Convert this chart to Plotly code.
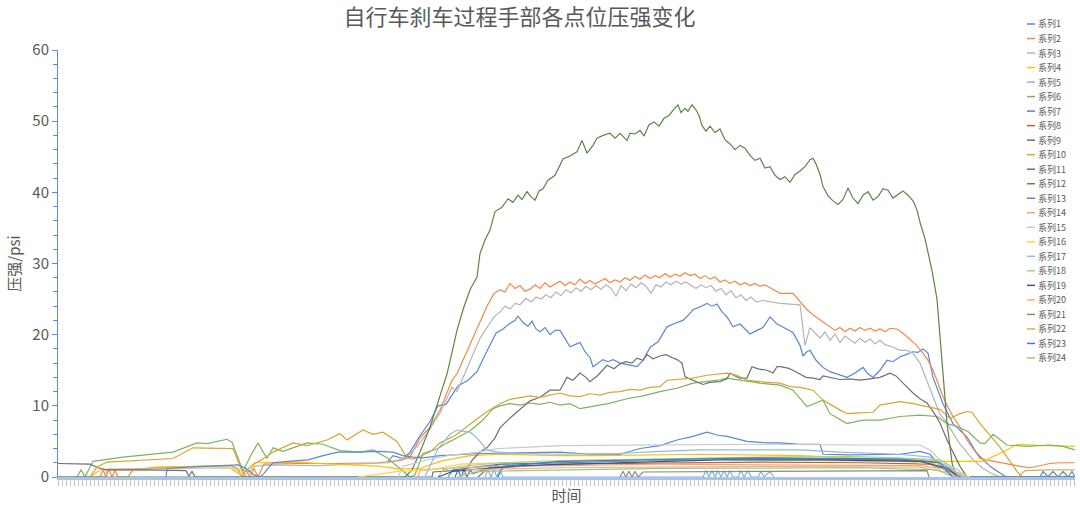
import plotly.graph_objects as go

# time index (sample) / pressure (psi)
s1_t = [330,335,345,352,362,372,380,388,394,400,410,419,430,438,445,452,457,460,465,470,474,478,482,487,492,497,502,507,512,517,522,527,532,535,540,545,550,555,562,570,579,585,592,600,609,617,625,632,635,642,649,654,659,664,669,675,682,687,692,699,705,712,716,719,722,729,735,742,745,749,752,758,765,772,782,789,797,805,810,815,822,829,835,842,848,855,860,865,870,875,885,895,909,919,932,942,948,1017]
s1_v = [2.2,3.0,2.6,3.5,5.8,7.8,10.0,10.2,11.5,12.8,13.6,14.8,18.0,20.2,20.8,21.6,22.0,22.6,21.7,21.2,21.9,20.8,20.4,21.0,20.0,20.6,20.6,19.4,18.3,18.6,18.9,17.6,16.8,15.5,16.0,16.5,16.2,16.5,16.0,15.8,15.5,16.4,18.2,19.0,21.1,21.6,22.0,23.0,23.5,23.9,24.4,24.0,24.3,23.2,22.5,21.1,21.5,20.8,20.1,20.6,21.0,22.5,22.0,21.5,21.3,20.8,20.3,18.5,17.0,17.6,17.8,16.4,15.4,14.8,14.3,14.0,14.6,15.4,14.5,14.0,15.0,16.4,16.2,16.9,17.2,17.6,17.5,18.0,17.4,14.0,10.3,7.5,5.6,3.3,1.5,0.5,0,0]

s2_t = [0,42,45,48,51,54,57,60,70,75,92,172,180,184,188,192,196,200,206,240,280,320,342,352,362,372,382,394,399,411,422,429,436,442,447,452,457,462,467,472,477,482,487,492,497,502,507,512,517,522,527,532,537,542,547,552,557,562,567,572,577,582,587,592,597,602,607,612,617,622,627,632,637,642,647,652,657,662,667,672,677,682,687,692,697,702,707,712,717,722,735,749,757,765,772,777,782,787,792,797,802,807,812,817,822,827,832,839,845,852,858,865,870,875,880,885,890,895,902,909,915,922,932,942,952,962,972,982,992,1002,1017]
s2_v = [0,0,1.0,0,1.0,0,0.9,0,0,1.0,1.3,1.6,1.2,0,1.0,0,1.2,0,1.8,1.9,1.9,2.0,2.3,2.8,5.5,7.0,9.4,13.6,14.5,18.3,22.0,24.0,25.8,26.3,26.0,27.2,26.5,26.9,26.1,26.4,27.0,26.5,27.3,26.7,27.1,27.5,26.9,27.4,27.0,27.8,27.2,27.6,27.1,27.5,27.9,27.3,27.7,27.4,28.0,27.6,28.2,27.8,28.4,27.9,28.3,28.0,28.6,28.1,28.5,28.2,28.7,28.3,28.5,27.9,28.3,27.8,28.1,27.4,27.7,27.2,27.5,27.0,27.3,26.9,27.2,26.8,27.0,26.6,26.2,25.8,25.8,23.5,22.6,21.8,21.2,20.6,21.0,20.4,20.9,20.5,21.0,20.6,20.9,20.5,20.8,20.4,20.9,20.8,20.2,19.4,18.6,17.4,16.4,15.0,13.2,11.3,9.8,8.5,7.0,5.2,4.0,2.6,2.3,2.0,1.8,1.5,1.3,1.6,1.9,2.0,2.0]

s3_t = [0,47,49,100,172,180,186,196,210,260,300,330,345,352,362,372,382,394,399,411,422,436,442,447,452,457,462,468,473,478,483,488,493,498,503,508,513,518,523,528,533,538,543,548,553,558,563,568,573,578,583,588,593,598,603,608,613,618,623,628,633,638,643,648,653,658,663,668,673,678,683,688,693,698,705,722,742,747,752,757,762,767,772,777,782,787,792,797,802,807,812,817,822,827,832,842,849,855,862,869,876,882,889,900,915,925,935,942,1017]
s3_v = [0,0,1.1,1.2,1.3,0.5,0.1,1.5,1.7,1.6,1.8,2.0,2.6,3.2,4.8,6.8,9.0,12.6,12.0,16.0,19.5,22.5,23.2,24.0,23.6,24.4,24.2,25.1,24.6,25.3,25.0,25.6,25.2,26.0,25.5,26.3,25.9,26.6,26.1,26.8,26.3,26.9,26.4,27.0,26.5,25.4,26.9,26.2,27.1,26.6,27.3,26.8,25.8,27.0,26.7,27.4,27.0,27.5,27.1,27.4,27.0,26.5,27.0,26.6,26.9,26.1,26.5,25.6,26.2,25.2,25.6,24.8,25.3,24.6,24.8,24.4,24.2,18.5,21.0,20.2,19.5,20.4,19.2,20.1,18.9,19.8,19.3,18.8,19.5,18.9,19.4,18.7,19.2,18.6,18.4,17.8,17.8,17.4,16.0,13.5,11.0,8.8,7.6,5.0,2.4,1.2,0.4,0,0]

s4_t = [32,42,92,95,172,180,185,192,197,242,262,282,322,342,362,382,412,442,502,542,642,742,822,862,882,925,945,959,985,1017]
s4_v = [0,1.0,1.0,1.4,1.6,0.8,0,0,2.0,2.1,1.9,1.8,1.5,1.1,1.2,2.2,3.0,3.2,3.0,3.0,3.2,3.0,2.5,2.5,2.2,2.2,3.5,4.6,4.4,4.3]

s5_t = [427,430,433,436,439,442,445,645,648,651,654,657,660,663,666,669,672,675,680,683,686,690,693,700,703,706,712,716]
s5_v = [0,1.0,0,1.0,0,1.0,0,0,0.9,0,0.9,0,0.9,0,0.9,0,0.9,0,0,0.9,0,0.9,0,0,0.8,0,0.8,0]

s6_t = [19,23,27,35,65,99,115,139,149,169,174,185,192,200,209,215,225,249,265,282,302,315,329,342,352,357,365,380,389,395,412,425,435,442,452,462,472,482,492,502,512,522,535,550,569,585,602,620,635,645,660,669,679,689,702,722,735,749,765,772,789,805,822,842,862,879,889,899,910,922,927,935,949,969,992,1005,1017]
s6_v = [0,1.0,0,2.2,2.8,3.3,3.5,4.8,4.7,5.3,4.9,0.8,2.8,4.8,2.6,4.1,3.6,4.8,4.6,3.7,3.5,3.8,2.7,1.2,0,0.3,3.3,4.0,4.8,5.2,6.5,8.0,9.6,10.0,10.3,10.1,10.4,10.2,10.5,10.1,10.3,9.6,9.9,10.3,11.0,11.4,12.0,12.5,13.2,13.4,13.6,13.9,13.7,13.4,13.2,12.9,12.2,9.9,10.8,8.9,7.5,8.0,8.0,8.5,8.7,8.5,7.5,7.1,6.4,4.8,4.7,6.0,4.5,4.3,4.5,4.3,3.8]

s7_t = [390,395,442,542,642,742,842,882,895,905]
s7_v = [0,1.0,1.8,2.1,2.5,2.6,2.4,2.0,0.8,0]

s8_t = [420,430,502,602,702,802,872,892,902]
s8_v = [0,1.2,1.8,2.0,2.1,2.0,1.8,0.8,0]

s9_t = [0,15,20,32,40,49,90,128,131,134,137,374,375,405,409,415,422,429,437,442,452,462,472,482,492,502,509,515,522,528,532,540,549,556,562,568,574,579,585,589,595,602,608,614,619,624,627,630,638,645,652,662,669,672,677,682,689,694,700,709,715,719,722,730,735,742,748,755,762,765,772,782,792,802,812,822,832,838,845,855,862,869,876,882,889,895,902,909,1017]
s9_v = [1.9,1.9,1.8,1.8,1.3,1.0,1.0,0.9,0.1,0.8,0,0,0.7,1.0,1.3,2.5,3.5,4.1,5.5,6.9,8.3,9.5,10.7,11.2,12.2,12.2,14.0,13.6,14.6,14.0,13.4,14.3,15.7,15.2,15.9,16.2,16.0,16.7,16.4,17.2,16.6,17.0,17.2,16.8,16.5,16.0,14.1,13.9,13.4,13.0,13.3,13.4,13.8,14.6,14.2,13.9,13.9,15.5,15.2,15.0,14.6,15.5,15.5,15.3,15.0,14.4,14.0,13.9,13.7,14.2,14.0,13.7,13.8,13.6,13.8,14.0,14.6,14.2,13.2,11.8,11.0,10.4,9.0,7.6,5.2,3.5,1.5,0,0]

s10_t = [32,39,49,99,115,135,157,175,185,195,202,215,235,249,269,282,289,305,315,325,339,349,355,372,382,397,412,427,435,442,452,462,472,482,492,502,512,522,532,542,552,562,572,582,592,602,609,622,635,649,662,669,679,689,702,722,732,742,755,765,782,789,802,815,822,832,842,855,865,882,892,902,909,914,922,932,942,952,959,964]
s10_v = [0,1.4,2.1,2.4,2.6,4.1,4.0,4.0,0.5,1.8,2.3,3.5,4.8,4.4,5.2,6.1,5.2,6.6,6.0,6.3,5.0,2.7,2.5,3.5,4.8,5.8,7.4,9.0,9.7,10.3,10.9,11.1,11.4,11.2,11.5,11.8,11.4,11.3,11.7,11.5,11.9,12.0,12.3,12.2,12.6,12.7,13.6,13.7,13.9,14.3,14.5,14.6,14.3,13.6,13.4,13.2,12.7,12.6,12.2,10.8,9.4,8.9,9.0,9.1,10.1,10.4,10.6,10.3,10.0,9.5,8.2,8.9,9.2,9.1,7.5,5.8,4.2,2.2,0.8,0]

s11_t = [397,400,403,406,409,412,415,442,502,602,702,802,862,882,892,900]
s11_v = [0,1.0,0,1.0,0,1.0,0.5,1.8,2.0,2.4,2.6,2.5,2.3,2.0,1.0,0]

s12_t = [0,347,354,362,372,382,389,394,399,405,412,419,422,427,432,437,444,450,455,460,464,469,473,477,481,485,490,497,502,505,512,519,524,529,535,539,545,552,557,562,569,572,577,582,586,591,596,601,606,611,616,620,623,627,630,634,638,641,644,648,652,657,662,667,672,677,682,687,692,697,702,707,712,717,722,727,732,737,742,747,752,755,758,762,765,770,775,780,785,790,795,800,805,810,815,820,825,830,835,840,845,850,855,859,862,867,874,879,885,889,894,898,1017]
s12_v = [0,0,1.0,3.5,7.0,11.5,14.5,17.5,20.6,23.5,26.3,28.1,31.4,33.3,34.7,37.3,37.9,39.1,38.6,39.6,39.0,40.1,39.4,38.9,40.2,40.5,41.7,42.4,43.8,44.7,45.1,45.7,47.3,45.5,46.6,47.6,48.0,48.3,47.6,48.3,47.3,48.3,48.2,48.7,47.9,49.5,49.9,49.3,50.4,50.8,51.7,52.3,51.2,51.8,51.4,52.3,51.6,50.8,49.4,48.6,49.3,48.4,48.9,47.4,46.8,46.0,46.6,46.2,45.2,44.5,44.8,43.4,43.6,42.4,41.8,42.2,41.4,42.5,43.0,43.6,44.6,44.8,44.0,42.5,40.8,39.5,38.8,38.3,39.0,40.6,39.2,38.4,39.6,40.1,38.9,39.4,40.5,40.3,39.2,39.7,40.2,39.6,38.8,37.5,35.8,33.5,29.0,25.0,15.0,7.6,2.0,0,0]

s13_t = [108,109,130,170,180,188,196,202,206,210,215,230,250,265,280,300,320,335,345,355,365,382,422,462,502,532,562,582,602,619,635,649,659,669,689,709,722,742,762,765,792,842,862,872,882,889,895,982,985,990,995,1000,1005,1010,1014,1017]
s13_v = [0,1.2,1.4,1.6,1.7,1.2,0.3,0,0.5,1.2,2.0,2.2,2.4,3.0,3.5,3.5,3.6,3.5,3.0,2.8,2.7,3.0,3.3,3.4,3.5,3.2,3.2,4.0,4.4,5.2,5.7,6.3,5.9,5.7,5.0,4.8,4.8,4.6,4.6,3.2,3.1,3.2,3.6,3.2,1.6,0.7,0,0,0.8,0,0.8,0,0.8,0,0.8,0]

s14_t = [360,362,402,442,502,602,702,802,862,882,902,912]
s14_v = [0,1.0,1.3,1.5,1.6,1.8,1.7,1.7,1.6,1.2,0.5,0]

s15_t = [340,345,372,390,420,440,502,602,702,802,862,872,882,895,905]
s15_v = [0,1.5,2.5,3.0,3.5,4.0,4.4,4.5,4.6,4.5,4.5,3.8,2.4,1.1,0]

s16_t = [300,340,372,402,442,542,642,742,842,882,897,912]
s16_v = [0,0.8,1.0,1.8,2.0,2.2,2.5,2.3,2.2,1.8,0.8,0]

s17_t = [367,372,380,392,399,405,412,419,429,440,462,502,562,602,642,702,742,782,842,872,882,895,905]
s17_v = [0,1.5,4.0,6.0,6.6,6.4,6.3,5.5,3.8,3.5,3.3,3.2,3.3,3.6,3.8,3.8,3.8,3.5,3.2,2.8,2.0,1.0,0]

s18_t = [380,385,402,442,502,602,702,782,842,882,900,908]
s18_v = [0,1.0,1.5,2.0,2.3,2.6,2.8,2.9,2.7,2.4,1.0,0]

s19_t = [380,395,462,562,662,762,862,890,900]
s19_v = [0,0.8,1.6,2.0,2.4,2.4,2.2,1.2,0]

s20_t = [402,410,502,702,862,890,900]
s20_v = [0,1.0,1.3,1.5,1.4,0.6,0]

s21_t = [562,565,568,571,574,577,580,585,700,869,871]
s21_v = [0,0.8,0,0.8,0,0.8,0,0.7,0.8,0.9,0]

s22_t = [960,967,990,1017]
s22_v = [0,0.9,1.0,1.0]

s23_t = [440,445,502,702,842,882,895]
s23_v = [0,1.5,2.2,2.7,2.5,2.0,0]

s24_t = [400,420,602,802,880,895]
s24_v = [0,0.8,1.2,1.3,1.0,0]

series_t = [s1_t,s2_t,s3_t,s4_t,s5_t,s6_t,s7_t,s8_t,s9_t,s10_t,s11_t,s12_t,
            s13_t,s14_t,s15_t,s16_t,s17_t,s18_t,s19_t,s20_t,s21_t,s22_t,s23_t,s24_t]
series_v = [s1_v,s2_v,s3_v,s4_v,s5_v,s6_v,s7_v,s8_v,s9_v,s10_v,s11_v,s12_v,
            s13_v,s14_v,s15_v,s16_v,s17_v,s18_v,s19_v,s20_v,s21_v,s22_v,s23_v,s24_v]
names = ["系列%d" % i for i in range(1, 25)]
colors = ["#5A86D2", "#F08848", "#B4B4B4", "#FFC000", "#7FB2E0", "#7DB35C",
          "#6F80B4", "#C0602A", "#707070", "#D6A62E", "#4A78A8", "#5E8449",
          "#5B89D3", "#F4A57A", "#C9C9C9", "#FFD24D", "#8DBBE6", "#A9D08E",
          "#2F5597", "#F4B183", "#8A8A8A", "#D4B24C", "#3F7FC8", "#9CC97F"]

txt = "#595959"
W, H = 1080, 509
ML, MR, MT, MB = 58, 5, 50, 32
PW, PH = W - ML - MR, H - MT - MB

fig = go.Figure()
for t, v, n, c in zip(series_t, series_v, names, colors):
    fig.add_trace(go.Scatter(x=t, y=v, name=n, mode="lines",
                             line=dict(color=c, width=1.2), showlegend=False))

# hand-built legend (Excel style: compact column at the top right)
leg_x0, leg_y0, leg_dy = 1027, 24, 14.52
shapes, annos = [], []
for i, (n, c) in enumerate(zip(names, colors)):
    py = leg_y0 + i * leg_dy
    yp = (H - MB - py) / PH
    shapes.append(dict(type="line", xref="paper", yref="paper",
                       x0=(leg_x0 - ML) / PW, x1=(leg_x0 + 8 - ML) / PW,
                       y0=yp, y1=yp, line=dict(color=c, width=1.5)))
    annos.append(dict(text=n, xref="paper", yref="paper",
                      x=(leg_x0 + 9 - ML) / PW, y=yp, xanchor="left", yanchor="middle",
                      showarrow=False, font=dict(size=9, color=txt)))

fig.update_layout(
    width=W, height=H,
    margin=dict(l=ML, r=MR, t=MT, b=MB),
    paper_bgcolor="white", plot_bgcolor="white",
    font=dict(family="Noto Sans CJK SC, Noto Sans, sans-serif", color=txt),
    title=dict(text="自行车刹车过程手部各点位压强变化", x=0.481, xanchor="center",
               y=1 - 17 / H, yanchor="middle", font=dict(size=22, color=txt)),
    showlegend=False,
    shapes=shapes, annotations=annos,
    xaxis=dict(range=[0, 1017], showgrid=False, zeroline=False,
               showline=True, linecolor="#A9C4E8", linewidth=3,
               ticks="outside", ticklen=6, tickwidth=1, tickcolor="#C4C4C4",
               tick0=0, dtick=4, showticklabels=False,
               title=dict(text="时间", font=dict(size=15, color=txt), standoff=6)),
    yaxis=dict(range=[0, 60], showgrid=False, zeroline=False,
               showline=True, linecolor="#5B8BD6", linewidth=1,
               ticks="outside", ticklen=5, tickcolor="#5B8BD6", dtick=10,
               minor=dict(dtick=2, ticks="outside", ticklen=4, tickcolor="#5B8BD6"),
               tickfont=dict(size=15, color=txt),
               title=dict(text="压强/psi", font=dict(size=15, color=txt), standoff=8)),
)
fig.write_html("out.html", config={"displayModeBar": False},
               post_script="document.body.style.margin='0';document.body.style.padding='0';")
